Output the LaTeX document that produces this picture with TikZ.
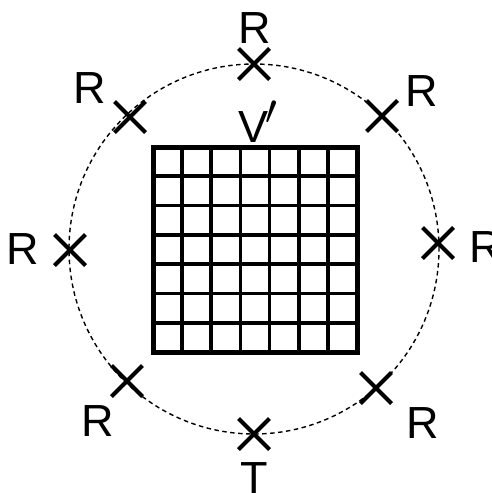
\documentclass[tikz,border=0pt]{standalone}
\usepackage{fontspec}
\setmainfont{Liberation Sans}
\usetikzlibrary{shapes.misc}
\begin{document}
\begin{tikzpicture}[x=1pt,y=-1pt,
  xmark/.style={draw, cross out, line width=4pt, minimum size=27pt, inner sep=0pt},
  lbl/.style={font=\fontsize{45}{45}\selectfont, inner sep=0pt},
  ring/.style={dash pattern=on 4.5pt off 3.5pt, line width=1.4pt},
  inner/.style={line width=3.8pt},
  outer/.style={line width=5pt}]
\useasboundingbox (0,0) rectangle (492,493);
% dashed ring
\draw[ring] (254,249) circle (185pt);
% grid
\foreach \i in {1,...,6} {
  \draw[inner] ({153+\i*29.14},147) -- ({153+\i*29.14},352);
  \draw[inner] (153,{147+\i*29.29}) -- (357,{147+\i*29.29});
}
\draw[outer] (153,147) rectangle (357,352);
\node[inner sep=0pt, minimum width=204pt, minimum height=205pt] (grid) at (255,249.5) {};
% X marks
\node[xmark] (xt)  at (254,64) {};
\node[xmark] (xtl) at (130,117) {};
\node[xmark] (xtr) at (382,116) {};
\node[xmark] (xl)  at (70,250) {};
\node[xmark] (xr)  at (438,243) {};
\node[xmark] (xbl) at (127,381) {};
\node[xmark] (xbr) at (376,388) {};
\node[xmark] (xb)  at (254,434) {};
% labels
\node[lbl] (lt)  at (255,28) {R};
\node[lbl] (ltl) at (90,88) {R};
\node[lbl] (ltr) at (422,91) {R};
\node[lbl] (ll)  at (23,249) {R};
\node[lbl] (lr)  at (486,247) {R};
\node[lbl] (lbl) at (98,421) {R};
\node[lbl] (lbr) at (423,423) {R};
\node[lbl] (lb)  at (254,478) {T};
\node[lbl] (lv)  at (254,122) {V\rlap{\hspace{-4pt}\raisebox{3pt}{\scalebox{1.7}{$'$}}}};
\end{tikzpicture}
\end{document}
